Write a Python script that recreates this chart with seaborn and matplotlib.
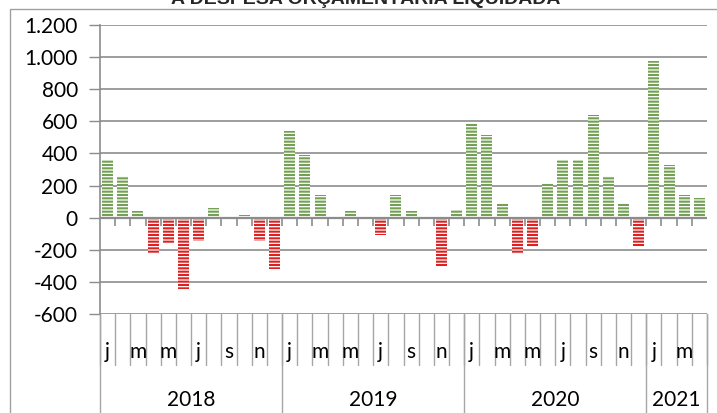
import numpy as np
import pandas as pd
import matplotlib
matplotlib.use("Agg")
import matplotlib.pyplot as plt
import seaborn as sns
from matplotlib.lines import Line2D
from matplotlib.patches import Rectangle
import matplotlib.transforms as mtransforms

# ---- data ----
years = ["2018", "2019", "2020", "2021"]
months_per_year = [12, 12, 12, 4]
month_letters = ["j", "f", "m", "a", "m", "j", "j", "a", "s", "o", "n", "d"]
values_2018 = [360, 260, 40, -220, -160, -445, -145, 60, 0, 15, -145, -320]
values_2019 = [540, 390, 140, 0, 40, -8, -110, 140, 40, 0, -300, 45]
values_2020 = [590, 515, 90, -225, -185, 215, 360, 360, 640, 260, 90, -175]
values_2021 = [975, 325, 140, 125]
yticks = [-600, -400, -200, 0, 200, 400, 600, 800, 1000, 1200]
title = "A DESPESA ORÇAMENTÁRIA LIQUIDADA"

values = values_2018 + values_2019 + values_2020 + values_2021
n = len(values)
df = pd.DataFrame({
    "idx": np.arange(n),
    "val": values,
    "sign": ["pos" if v >= 0 else "neg" for v in values],
})

GREEN = "#70AD47"
RED = "#FF0000"
GRID = "#8C8C8C"

sns.set_theme(style="white")
plt.rcParams["font.family"] = ["Lato", "DejaVu Sans"]
plt.rcParams["hatch.linewidth"] = 1.5

W, H = 717, 413
fig = plt.figure(figsize=(W / 100, H / 100), dpi=100)
ax_left, ax_right, ax_top, ax_bot = 100, 707, 25, 314
ax = fig.add_axes([ax_left / W, 1 - ax_bot / H, (ax_right - ax_left) / W, (ax_bot - ax_top) / H])

sns.barplot(data=df, x="idx", y="val", hue="sign",
            palette={"pos": GREEN, "neg": RED}, dodge=False, width=0.72,
            legend=False, ax=ax, zorder=3)

for p in ax.patches:
    c = p.get_facecolor()
    p.set_facecolor("white")
    p.set_edgecolor(c)
    p.set_hatch("-----")
    p.set_linewidth(0)

ax.set_xlim(-0.5, n - 0.5)
ax.set_ylim(-600, 1200)
ax.set_yticks(yticks)
ax.set_yticklabels([f"{v:,}".replace(",", ".") for v in yticks], fontsize=15, color="black")
ax.set_xticks([])
ax.set_xlabel("")
ax.set_ylabel("")
ax.yaxis.grid(True, color=GRID, lw=1.2, zorder=0)
ax.set_axisbelow(True)
ax.tick_params(axis="y", which="both", left=True, length=8, width=1, color=GRID, pad=8)
for s in ["top", "right", "bottom"]:
    ax.spines[s].set_visible(False)
ax.spines["left"].set_color(GRID)
ax.spines["left"].set_linewidth(1.2)

# category axis at zero
ax.axhline(0, color=GRID, lw=1.6, zorder=4)
trans = mtransforms.blended_transform_factory(ax.transData, ax.transAxes)
for b in range(1, n):
    ax.vlines(b - 0.5, -50, 0, color=GRID, lw=1.2, zorder=4)

# bottom multi-level labels
px = ax_bot - ax_top
def ay(ypix):
    return (ax_bot - ypix) / px

# month separators
for b in range(0, n + 1):
    ax.add_line(Line2D([b - 0.5, b - 0.5], [0, ay(365)], transform=trans,
                       color="#A6A6A6", lw=1, clip_on=False))
# year separators
start = 0
bounds = [0]
for m in months_per_year:
    start += m
    bounds.append(start)
for b in bounds:
    ax.add_line(Line2D([b - 0.5, b - 0.5], [0, ay(H + 2)], transform=trans,
                       color="#A6A6A6", lw=1, clip_on=False))

i = 0
for y, m in zip(years, months_per_year):
    for k in range(m):
        if k % 2 == 0:
            ax.text(i + k, ay(352), month_letters[k], transform=trans,
                    ha="center", va="center", fontsize=15, color="black")
    ax.text(i + (m - 1) / 2, ay(400), y, transform=trans,
            ha="center", va="center", fontsize=15, color="black")
    i += m

# title (partly cut at top, as in the reference)
fig.text(366 / W, 1 - 4 / H, title, ha="center", va="baseline",
         fontsize=14, fontweight="bold", family=["Liberation Sans", "DejaVu Sans"])

# outer border
fig.patches.append(Rectangle((10 / W, -0.01), 1.0, 1 - 9 / H + 0.01,
                             transform=fig.transFigure, fill=False,
                             edgecolor="#A0A0A0", lw=1))

fig.savefig("out.png", dpi=100)
